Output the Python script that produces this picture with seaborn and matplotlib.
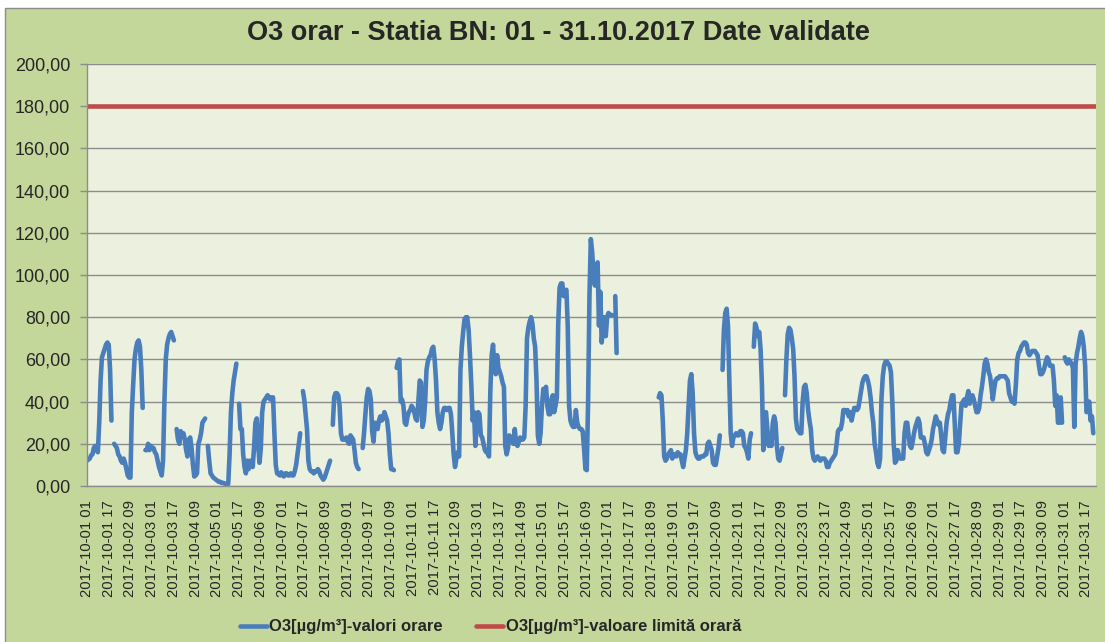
import numpy as np
import pandas as pd
import matplotlib
matplotlib.use("Agg")
import matplotlib.pyplot as plt
from matplotlib.patches import Rectangle
from matplotlib.lines import Line2D
from matplotlib.ticker import FuncFormatter, MultipleLocator
import seaborn as sns

nan = np.nan

# O3 hourly values [ug/m3], one list per day (hours 01..24), nan = missing
day01 = [12, 12.5, 13, 14.5, 15, 18, 19, 17, 16, 30, 50, 61, 63, 65, 67, 68, 67, 55, 31, nan, 20, 19, 18, 15]
day02 = [14, 12, 11, 13, 11, 8, 5, 4, 4, 35, 48, 60, 65, 68, 69, 66, 55, 37, nan, 17, 17, 20, 17, 19]
day03 = [18, 18, 16, 15, 12, 9, 7, 5, 12, 40, 60, 67, 70, 72, 73, 71, 69, nan, 27, 22, 20, 26, 24, 25]
day04 = [22, 17, 14, 22, 23, 18, 10, 4.5, 5, 6, 20, 22, 25, 30, 31, 32, nan, 19, 12, 6, 5, 4, 3.5, 3]
day05 = [2.5, 2, 2, 1.5, 1.5, 1.3, 1, 1, 1, 15, 35, 44, 50, 54, 58, nan, 39, 27, 27, 15, 9, 6, 12, 8]
day06 = [12, 10, 9, 18, 30, 32, 20, 11, 18, 35, 40, 41, 42, 43, 42, 41, 42, 42, 25, 10, 6, 5.5, 5, 6.5]
day07 = [5, 4.5, 6, 6, 5, 5, 6, 5, 5, 7, 10, 15, 20, 25, nan, 45, 41, 34, 27, 12, 8, 7, 7, 6]
day08 = [7, 7, 8, 7, 5, 4, 3, 4, 6, 8, 10, 12, nan, 29, 42, 44, 44, 43, 38, 25, 22, 22, 22, 23]
day09 = [21, 20, 24, 23, 22, 17, 11, 9, 8, nan, nan, 18, 25, 34, 42, 46, 45, 41, 26, 21, 30, 29, 27, 31]
day10 = [33, 31, 32, 35, 33, 31, 25, 15, 8, 8, 7.5, nan, 56, 59, 60, 40, 41, 38, 30, 29, 33, 35, 36, 38]
day11 = [37, 35, 32, 31, 40, 50, 49, 28, 31, 40, 55, 59, 61, 62, 65, 66, 60, 50, 35, 30, 27, 30, 35, 37]
day12 = [37, 36, 37, 37, 34, 25, 15, 9, 13, 16, 14, 55, 66, 73, 79, 80, 80, 74, 62, 48, 31, 35, 19, 33]
day13 = [35, 34, 24, 23, 20, 17, 16, 16, 14, 45, 62, 67, 55, 53, 62, 56, 54, 52, 49, 47, 19, 15, 18, 24]
day14 = [23, 22, 20, 27, 20, 19, 21, 23, 22, 22, 23, 38, 70, 75, 78, 80, 77, 70, 66, 50, 24, 20, 25, 38]
day15 = [46, 44, 47, 38, 34, 34, 41, 43, 35, 38, 42, 77, 94, 96, 96, 90, 92, 93, 76, 38, 31, 29, 28, 28]
day16 = [36, 30, 28, 27, 27, 26, 18, 8, 7.5, 40, 90, 117, 111, 100, 95, 104, 106, 76, 92, 68, 75, 80, 71, 80]
day17 = [82, 81, 81, 81, nan, 90, 63, nan, nan, nan, nan, nan, nan, nan, nan, nan, nan, nan, nan, nan, nan, nan, nan, nan]
day18 = [nan, nan, nan, nan, nan, nan, nan, nan, nan, nan, nan, nan, nan, 42, 44, 43, 31, 14, 12, 13, 15, 16, 17, 13]
day19 = [15, 15, 14, 16, 15, 15, 12, 9, 13, 17, 25, 38, 50, 53, 44, 25, 16, 14, 13, 13, 14, 14, 14, 15]
day20 = [15, 20, 21, 19, 17, 11, 10, 10, 14, 18, 24, nan, 55, 74, 82, 84, 76, 50, 25, 19, 23, 24, 25, 24]
day21 = [24, 26, 26, 25, 19, 18, 16, 13, 22, 25, nan, 66, 77, 75, 71, 73, 65, 48, 17, 33, 35, 27, 19, 24]
day22 = [19, 30, 33, 30, 19, 13, 12, 15, 18, nan, 43, 60, 72, 75, 74, 70, 65, 52, 32, 27, 26, 25, 25, 40]
day23 = [47, 48, 44, 36, 31, 27, 17, 13, 12, 13, 14, 13, 12, 13, 13, 13, 12, 9, 9, 11, 12, 13, 14, 15]
day24 = [20, 26, 27, 27, 30, 36, 36, 35, 36, 33, 35, 31, 34, 37, 37, 36, 37, 41, 45, 49, 51, 52, 52, 50]
day25 = [47, 42, 35, 30, 20, 16, 11, 9, 13, 41, 52, 57, 59, 59, 58, 57, 54, 40, 20, 11, 12, 17, 14, 13]
day26 = [13, 13, 25, 30, 30, 24, 19, 18, 21, 25, 28, 30, 32, 30, 23, 23, 23, 20, 16, 15, 17, 19, 22, 27]
day27 = [30, 33, 31, 29, 30, 24, 17, 16, 23, 30, 34, 36, 40, 43, 43, 30, 16, 16, 20, 30, 39, 40, 41, 38]
day28 = [42, 45, 39, 42, 43, 41, 38, 35, 35, 37, 43, 47, 52, 58, 60, 58, 54, 52, 47, 41, 46, 50, 51, 51]
day29 = [52, 52, 52, 52, 52, 51, 50, 44, 42, 40, 40, 39, 48, 60, 63, 64, 66, 67, 68, 68, 67, 63, 62, 63]
day30 = [64, 64, 64, 63, 62, 57, 53, 53, 54, 56, 59, 61, 60, 57, 57, 57, 50, 38, 43, 30, 30, 42, 30, nan]
day31 = [61, 59, 58, 60, 59, 58, 56, 28, 58, 63, 66, 70, 73, 71, 66, 57, 35, 36, 40, 31, 33, 25, nan, nan]

o3_days = [day01, day02, day03, day04, day05, day06, day07, day08, day09, day10,
           day11, day12, day13, day14, day15, day16, day17, day18, day19, day20,
           day21, day22, day23, day24, day25, day26, day27, day28, day29, day30, day31]

limit_value = 180.0
first_hour = "2017-10-01 01:00"
label_step = 16

title = "O3 orar - Statia BN: 01 - 31.10.2017 Date validate"
label_o3 = "O3[µg/m³]-valori orare"
label_limit = "O3[µg/m³]-valoare limită orară"

# Build frames
o3 = np.concatenate([np.array(d, dtype=float) for d in o3_days])
n = len(o3)
hours = pd.date_range(first_hour, periods=n, freq="h")
hour_labels = list(hours.strftime("%Y-%m-%d %H"))

df = pd.DataFrame({"idx": np.arange(n), "o3": o3})
df["seg"] = df["o3"].isna().cumsum()
df = df.dropna()

lim = pd.DataFrame({"idx": np.arange(n), "val": np.full(n, limit_value)})

blue = "#4A7EBB"
red = "#BE4B48"
grey = "#8C8C8C"

sns.set_style("white")
plt.rcParams["font.family"] = ["Liberation Sans", "DejaVu Sans"]

fig = plt.figure(figsize=(11.05, 6.42), dpi=100, facecolor="white")
fig.patches.append(Rectangle((5 / 1105, -0.02), 1.05, 1 - 8 / 642 + 0.02,
                             transform=fig.transFigure, facecolor="#C4D79B",
                             edgecolor=grey, linewidth=1.0, zorder=-10))
ax = fig.add_axes([87 / 1105, 1 - 486 / 642, (1096 - 87) / 1105, (486 - 64) / 642])
ax.set_facecolor("#EBF1DE")

sns.lineplot(data=df, x="idx", y="o3", units="seg", estimator=None,
             color=blue, linewidth=3.3, ax=ax, legend=False)
sns.lineplot(data=lim, x="idx", y="val", color=red, linewidth=3.3, ax=ax, legend=False)

ax.set_xlim(0, n - 1)
ax.set_ylim(0, 200)
ax.yaxis.set_major_locator(MultipleLocator(20))
ax.yaxis.set_major_formatter(FuncFormatter(lambda v, p: f"{v:.2f}".replace(".", ",")))
ax.grid(axis="y", color=grey, linewidth=1.0)
ax.grid(axis="x", visible=False)
ax.set_axisbelow(True)

ax.set_xticks(np.arange(0, n, label_step))
ax.set_xticklabels(hour_labels[::label_step], rotation=90, fontsize=10.7)
ax.set_xticks(np.arange(n), minor=True)
ax.tick_params(axis="x", which="both", length=4, color=grey, width=0.6, pad=6)
ax.tick_params(axis="y", length=5, color=grey, width=1.0, labelsize=13, pad=7, left=True)
ax.set_xlabel("")
ax.set_ylabel("")

for s in ["top", "right"]:
    ax.spines[s].set_visible(False)
for s in ["left", "bottom"]:
    ax.spines[s].set_color(grey)
    ax.spines[s].set_linewidth(1.0)

fig.text(0.505, 1 - 33 / 642, title, ha="center", va="center",
         fontsize=19.5, fontweight="bold")

handles = [Line2D([], [], color=blue, linewidth=3.3),
           Line2D([], [], color=red, linewidth=3.3)]
fig.legend(handles, [label_o3, label_limit], loc="center",
           bbox_to_anchor=(0.444, 1 - 627 / 642), ncol=2, frameon=False,
           prop={"weight": "bold", "size": 12}, handlelength=1.6,
           handletextpad=0.15, columnspacing=2.0)

fig.savefig("out.png", dpi=100, facecolor="white")
